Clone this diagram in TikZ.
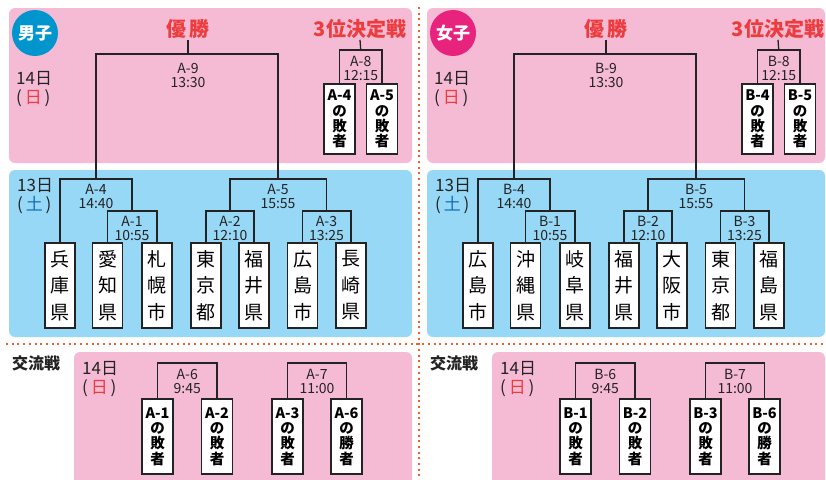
\documentclass[tikz,border=0pt]{standalone}
\usepackage{fontspec}
\setmainfont{Noto Sans CJK JP}
\definecolor{pnk}{RGB}{246,187,212}
\definecolor{sky}{RGB}{150,216,245}
\definecolor{cblue}{RGB}{0,150,205}
\definecolor{cmag}{RGB}{232,35,125}
\definecolor{ttl}{RGB}{236,60,62}
\definecolor{dotc}{RGB}{240,95,50}
\definecolor{ink}{RGB}{35,35,35}
\definecolor{dblue}{RGB}{20,110,180}
\tikzset{
 brk/.style={draw=ink, line width=1.3pt},
 teambox/.style={draw=ink, fill=white, line width=1.4pt, minimum width=30pt, minimum height=85pt, inner sep=0pt, align=center, font=\fontsize{19}{26.5}\selectfont},
 loserbox/.style={draw=ink, fill=white, line width=1.4pt, minimum width=31pt, inner sep=0pt, align=center, font=\bfseries\fontsize{14.5}{15.2}\selectfont},
 matchlbl/.style={align=center, inner sep=0pt, font=\fontsize{14}{14}\selectfont, text=ink},
 ttltxt/.style={text=ttl, font=\bfseries\fontsize{20}{20}\selectfont, inner sep=1pt},
 daylbl/.style={anchor=west, inner sep=0pt, align=left, font=\fontsize{17}{18.5}\selectfont, text=ink},
 dotline/.style={draw=dotc, line width=2pt, dash pattern=on 2pt off 3.7pt},
}
\newcommand{\halfbracket}[6]{%
\begin{scope}[xshift=#4pt]
 \fill[pnk, rounded corners=6pt] (9,8) rectangle (#5,163);
 \fill[sky, rounded corners=6pt] (9,170) rectangle (#5,337);
 \fill[pnk, rounded corners=6pt] (74,352) rectangle (#5,495);
 \node[circle, fill=#3, minimum size=46pt, inner sep=0pt, text=white, font=\bfseries\fontsize{17}{17}\selectfont] (#1sex) at (35,33) {#2};
 \node[daylbl] (#1dayT) at (16,89) {14日\\(\,\textcolor{ttl}{日}\,)};
 \node[daylbl] (#1dayM) at (17,196) {13日\\(\,\textcolor{dblue}{土}\,)};
 \node[anchor=west, inner sep=0pt, font=\bfseries\fontsize{16}{16}\selectfont, text=ink] (#1kor) at (12,363) {交流戦};
 \node[daylbl] (#1dayB) at (82,379) {14日\\(\,\textcolor{ttl}{日}\,)};
 \foreach \tn/\tx [count=\i] in {#6} {\node[teambox] (#1t\i) at (\tx,285.5) {\tn};}
 \coordinate (#1c1) at (132,211);
 \coordinate (#1c2) at (230,211);
 \coordinate (#1c3) at (326.5,211);
 \coordinate (#1c4) at (96,179);
 \coordinate (#1c5) at (278,179);
 \coordinate (#1c9) at (188,54);
 \draw[brk] (#1t2.north) |- (#1c1) -| (#1t3.north);
 \draw[brk] (#1t4.north) |- (#1c2) -| (#1t5.north);
 \draw[brk] (#1t6.north) |- (#1c3) -| (#1t7.north);
 \draw[brk] (#1t1.north) |- (#1c4) -| (#1c1);
 \draw[brk] (#1c2) |- (#1c5) -| (#1c3);
 \draw[brk] (#1c4) |- (#1c9) -| (#1c5);
 \node[ttltxt] (#1win) at (188,29) {優\,勝};
 \draw[brk] (#1c9) -- (#1win.south);
 \node[matchlbl] (#1l1) at (132,228) {#1-1\\10:55};
 \node[matchlbl] (#1l2) at (230,228) {#1-2\\12:10};
 \node[matchlbl] (#1l3) at (326.5,228) {#1-3\\13:25};
 \node[matchlbl] (#1l4) at (96,196) {#1-4\\14:40};
 \node[matchlbl] (#1l5) at (278,196) {#1-5\\15:55};
 \node[matchlbl] (#1l9) at (188,75) {#1-9\\13:30};
 \node[ttltxt] (#1third) at (360,29) {3位決定戦};
 \node[loserbox, minimum height=70pt] (#1q1) at (339.5,119) {#1-4\\の\\敗\\者};
 \node[loserbox, minimum height=70pt] (#1q2) at (382,119) {#1-5\\の\\敗\\者};
 \coordinate (#1c8) at (360.75,50);
 \draw[brk] (#1q1.north) |- (#1c8) -| (#1q2.north);
 \draw[brk] (#1c8) -- (#1third.south);
 \node[matchlbl] (#1l8) at (360.75,68) {#1-8\\12:15};
 \node[loserbox, minimum height=75pt] (#1r1) at (157.5,436.5) {#1-1\\の\\敗\\者};
 \node[loserbox, minimum height=75pt] (#1r2) at (217,436.5) {#1-2\\の\\敗\\者};
 \node[loserbox, minimum height=75pt] (#1r3) at (287.5,436.5) {#1-3\\の\\敗\\者};
 \node[loserbox, minimum height=75pt] (#1r4) at (346.5,436.5) {#1-6\\の\\勝\\者};
 \coordinate (#1c6) at (187.25,363);
 \coordinate (#1c7) at (317,363);
 \draw[brk] (#1r1.north) |- (#1c6) -| (#1r2.north);
 \draw[brk] (#1r3.north) |- (#1c7) -| (#1r4.north);
 \node[matchlbl] (#1l6) at (187.25,381) {#1-6\\9:45};
 \node[matchlbl] (#1l7) at (317,381) {#1-7\\11:00};
\end{scope}}
\begin{document}
\begin{tikzpicture}[x=1pt,y=-1pt]
\useasboundingbox (0,0) rectangle (826,479);
\clip (0,0) rectangle (826,479);
\halfbracket{A}{男子}{cblue}{0}{412}{兵\\庫\\県/60,愛\\知\\県/107.5,札\\幌\\市/157,東\\京\\都/206,福\\井\\県/254,広\\島\\市/302.5,長\\崎\\県/351}
\halfbracket{B}{女子}{cmag}{418}{407}{広\\島\\市/60,沖\\縄\\県/107.5,岐\\阜\\県/157,福\\井\\県/206,大\\阪\\市/254,東\\京\\都/302.5,福\\島\\県/351}
\draw[dotline] (419,7) -- (419,479);
\draw[dotline] (6,344) -- (826,344);
\end{tikzpicture}
\end{document}
